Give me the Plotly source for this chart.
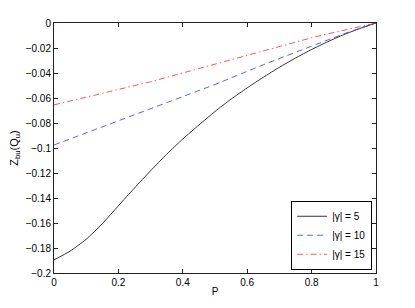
import plotly.graph_objects as go

P = [0, 0.05, 0.1, 0.15, 0.2, 0.25, 0.3, 0.35, 0.4, 0.45, 0.5,
     0.55, 0.6, 0.65, 0.7, 0.75, 0.8, 0.85, 0.9, 0.95, 1.0]
z_g5 = [-0.1895, -0.1825, -0.1730, -0.1605, -0.1462, -0.1320, -0.1182, -0.1050,
        -0.0928, -0.0816, -0.0708, -0.0609, -0.0519, -0.0434, -0.0354, -0.0280,
        -0.0212, -0.0150, -0.0093, -0.0044, 0.0]
z_g10 = [-0.0976, -0.0928, -0.0880, -0.0832, -0.0784, -0.0736, -0.0688, -0.0640,
         -0.0592, -0.0542, -0.0492, -0.0439, -0.0385, -0.0334, -0.0284, -0.0234,
         -0.0185, -0.0136, -0.0087, -0.0042, 0.0]
z_g15 = [-0.0655, -0.0625, -0.0595, -0.0565, -0.0534, -0.0502, -0.0470, -0.0435,
         -0.0400, -0.0364, -0.0328, -0.0292, -0.0256, -0.0220, -0.0185, -0.0151,
         -0.0118, -0.0087, -0.0056, -0.0027, 0.0]

names = ["|γ| = 5", "|γ| = 10", "|γ| = 15"]

x_ticks = [0, 0.2, 0.4, 0.6, 0.8, 1]
x_tick_text = ["0", "0.2", "0.4", "0.6", "0.8", "1"]
y_ticks = [0, -0.02, -0.04, -0.06, -0.08, -0.1, -0.12, -0.14, -0.16, -0.18, -0.2]
y_tick_text = ["0", "−0.02", "−0.04", "−0.06", "−0.08", "−0.1", "−0.12",
               "−0.14", "−0.16", "−0.18", "−0.2"]

fig = go.Figure()
fig.add_trace(go.Scatter(x=P, y=z_g5, mode="lines", name=names[0],
                         line=dict(color="#000000", width=0.8, shape="spline", smoothing=0.6)))
fig.add_trace(go.Scatter(x=P, y=z_g10, mode="lines", name=names[1],
                         line=dict(color="#2a3cff", width=0.8, dash="6px,4px")))
fig.add_trace(go.Scatter(x=P, y=z_g15, mode="lines", name=names[2],
                         line=dict(color="#ff2a2a", width=0.8, dash="6px,3px,1.5px,3px")))

axis_common = dict(showline=True, linecolor="#222", linewidth=1, mirror="ticks",
                   ticks="inside", ticklen=4, tickcolor="#222", showgrid=False,
                   zeroline=False, automargin=False, tickfont=dict(size=10, color="#000"))

# The page body has an 8px margin; the margins below compensate for it.
fig.update_layout(
    width=415, height=308,
    margin=dict(l=46, r=47, t=15, b=43),
    paper_bgcolor="white", plot_bgcolor="white",
    font=dict(family="Liberation Sans, Arial, sans-serif", size=10, color="#000"),
    xaxis=dict(range=[0, 1], tickvals=x_ticks, ticktext=x_tick_text,
               title=dict(text="P", standoff=0, font=dict(size=10)), **axis_common),
    yaxis=dict(range=[-0.2, 0], tickvals=y_ticks, ticktext=y_tick_text,
               title=dict(text="Z<sub>bu</sub>(Q<sub>u</sub>)", standoff=6, font=dict(size=11)),
               **axis_common),
    legend=dict(x=0.988, y=0.013, xanchor="right", yanchor="bottom",
                bgcolor="white", bordercolor="#000", borderwidth=1,
                font=dict(size=10), tracegroupgap=0, itemwidth=30),
    showlegend=True,
)

fig.write_html("out.html")
